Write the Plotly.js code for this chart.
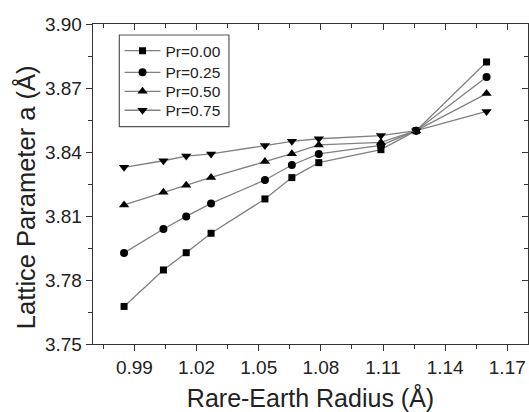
<!DOCTYPE html>
<html>
<head>
<meta charset="utf-8">
<script src="https://cdn.plot.ly/plotly-3.0.1.min.js"></script>
<style>html,body{margin:0;padding:0;background:#fff;}#chart{width:529px;height:412px;}</style>
</head>
<body>
<div id="chart"></div>
<script>
const radius = [0.985, 1.004, 1.015, 1.027, 1.053, 1.066, 1.079, 1.109, 1.126, 1.160];
const pr000 = [3.7676, 3.7847, 3.7928, 3.8019, 3.8180, 3.8280, 3.8350, 3.8411, 3.8500, 3.8822];
const pr025 = [3.7927, 3.8039, 3.8098, 3.8159, 3.8269, 3.8339, 3.8391, 3.8431, 3.8500, 3.8752];
const pr050 = [3.8152, 3.8211, 3.8244, 3.8281, 3.8355, 3.8392, 3.8433, 3.8445, 3.8500, 3.8674];
const pr075 = [3.8328, 3.8359, 3.8381, 3.8391, 3.8430, 3.8450, 3.8462, 3.8477, 3.8500, 3.8590];
const seriesNames = ['Pr=0.00', 'Pr=0.25', 'Pr=0.50', 'Pr=0.75'];
const seriesValues = [pr000, pr025, pr050, pr075];
const symbols = ['square', 'circle', 'triangle-up', 'triangle-down'];
const sizes = [7, 8, 9, 9];
const legendIds = ['legend', 'legend2', 'legend3', 'legend4'];
const legendY = [0.9153, 0.8478, 0.7884, 0.7291];

const FONT = '"Liberation Sans", Arial, sans-serif';
const TXT = '#222';
const traces = seriesValues.map((vals, i) => ({
  x: radius, y: vals, name: seriesNames[i], type: 'scatter', mode: 'lines+markers',
  legend: legendIds[i],
  line: {color: '#808080', width: 1.3},
  marker: {symbol: symbols[i], size: sizes[i], color: '#000'}
}));
traces.push({x: [], y: [], xaxis: 'x2', yaxis: 'y2', showlegend: false, hoverinfo: 'skip', type: 'scatter'});

const xr = [0.97, 1.18], yr = [3.75, 3.90];
const layout = {
  width: 529, height: 412,
  margin: {l: 93, r: 1, t: 24, b: 68},
  paper_bgcolor: '#fff', plot_bgcolor: '#fff',
  font: {family: FONT, color: TXT},
  showlegend: true,
  shapes: [{type: 'rect', xref: 'paper', yref: 'paper', x0: 0.0605, x1: 0.3126, y0: 0.679, y1: 0.9656,
    line: {color: '#555', width: 1.2}, fillcolor: 'rgba(0,0,0,0)', layer: 'above'}],
  annotations: [{text: 'Lattice Parameter a (Å)', xref: 'paper', yref: 'paper', x: -0.1563, y: 0.459,
    xanchor: 'center', yanchor: 'middle', textangle: -90, showarrow: false,
    font: {size: 25.5, family: FONT, color: TXT}}],
  xaxis: {range: xr, showgrid: false, zeroline: false, showline: true, linecolor: '#333', linewidth: 1.3,
    ticks: 'outside', ticklen: 6, tickcolor: '#333', tick0: 0.99, dtick: 0.03, tickformat: '.2f',
    minor: {ticks: 'outside', ticklen: 4, dtick: 0.015, tick0: 0.975, tickcolor: '#333', showgrid: false},
    tickfont: {size: 19, family: FONT, color: TXT},
    title: {text: 'Rare-Earth Radius (Å)', font: {size: 25, family: FONT, color: TXT}, standoff: 12}},
  yaxis: {range: yr, showgrid: false, zeroline: false, showline: true, linecolor: '#333', linewidth: 1.3,
    ticks: 'outside', ticklen: 6, tickcolor: '#333', tick0: 3.75, dtick: 0.03, tickformat: '.2f',
    minor: {ticks: 'outside', ticklen: 4, dtick: 0.015, tick0: 3.75, tickcolor: '#333', showgrid: false},
    tickfont: {size: 19, family: FONT, color: TXT}},
  xaxis2: {range: xr, overlaying: 'x', side: 'top', anchor: 'y2', showgrid: false, zeroline: false,
    showline: true, linecolor: '#333', linewidth: 1.3, ticks: 'inside', ticklen: 6, tickcolor: '#333',
    tick0: 0.99, dtick: 0.03, showticklabels: false,
    minor: {ticks: 'inside', ticklen: 4, dtick: 0.015, tick0: 0.975, tickcolor: '#333', showgrid: false}},
  yaxis2: {range: yr, overlaying: 'y', side: 'right', anchor: 'x2', showgrid: false, zeroline: false,
    showline: true, linecolor: '#333', linewidth: 1.3, ticks: 'inside', ticklen: 6, tickcolor: '#333',
    tick0: 3.75, dtick: 0.03, showticklabels: false,
    minor: {ticks: 'inside', ticklen: 4, dtick: 0.015, tick0: 3.75, tickcolor: '#333', showgrid: false}}
};
legendIds.forEach((id, i) => {
  layout[id] = {x: 0.061, y: legendY[i], xanchor: 'left', yanchor: 'middle', itemwidth: 36,
    bgcolor: 'rgba(0,0,0,0)', borderwidth: 0, font: {size: 15.5, family: FONT, color: TXT}};
});
Plotly.newPlot('chart', traces, layout, {staticPlot: true, displayModeBar: false});
</script>
</body>
</html>
